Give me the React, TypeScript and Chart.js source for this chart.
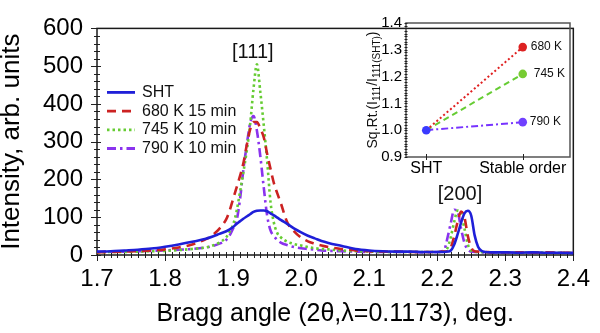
import React, { useEffect, useRef } from 'react';
import { Chart, registerables } from 'chart.js';

Chart.register(...registerables);

const FONT = '"Liberation Sans", Arial, Helvetica, sans-serif';

// ---- main chart data ----
const angles = [
  1.70, 1.72, 1.74, 1.76, 1.78, 1.80, 1.82, 1.84, 1.86, 1.87,
  1.88, 1.89, 1.895, 1.90, 1.905, 1.91, 1.915, 1.92, 1.925, 1.93,
  1.935, 1.94, 1.945, 1.95, 1.955, 1.96, 1.965, 1.97, 1.98, 1.99,
  2.00, 2.01, 2.02, 2.03, 2.04, 2.06, 2.08, 2.10, 2.12, 2.14,
  2.16, 2.18, 2.20, 2.21, 2.215, 2.22, 2.225, 2.23, 2.235, 2.24,
  2.245, 2.25, 2.255, 2.26, 2.265, 2.27, 2.28, 2.30, 2.32, 2.34,
  2.36, 2.38, 2.40,
];
const shtValues = [
  9, 10, 12, 14, 17, 22, 28, 35, 43, 49,
  56, 63, 68, 74, 82, 89, 96, 102, 108, 114,
  117, 118, 118, 116, 110, 105, 99, 93, 82, 70,
  60, 51, 44, 37, 32, 24, 16, 12, 10, 9,
  9, 8, 8, 8, 9, 12, 28, 55, 85, 110,
  117, 104, 52, 22, 11, 8, 7, 7, 6, 7,
  6, 6, 5,
];
const k680Values = [
  7, 8, 9, 10, 12, 15, 20, 28, 42, 53,
  70, 95, 118, 148, 178, 208, 242, 290, 332, 352,
  352, 335, 312, 268, 228, 190, 163, 138, 85, 62,
  46, 36, 30, 25, 21, 16, 12, 10, 9, 9,
  8, 8, 8, 9, 10, 20, 50, 88, 115, 100,
  50, 20, 10, 9, 8, 8, 7, 7, 7, 6,
  7, 6, 6,
];
const k745Values = [
  7, 8, 8, 9, 10, 11, 13, 16, 20, 25,
  33, 47, 62, 80, 115, 165, 218, 275, 345, 440,
  505, 432, 345, 250, 140, 85, 58, 47, 35, 29,
  25, 21, 18, 16, 15, 12, 10, 9, 8, 8,
  8, 8, 8, 9, 18, 48, 88, 118, 110, 70,
  28, 12, 9, 8, 8, 7, 7, 7, 6, 7,
  6, 6, 6,
];
const k790Values = [
  8, 9, 9, 10, 11, 12, 14, 16, 20, 24,
  30, 40, 52, 70, 90, 145, 225, 290, 348, 368,
  329, 262, 180, 105, 65, 50, 40, 33, 26, 21,
  18, 16, 14, 12, 11, 10, 9, 8, 8, 8,
  8, 7, 8, 12, 45, 85, 120, 115, 70, 32,
  14, 9, 8, 8, 7, 7, 7, 6, 7, 6,
  6, 6, 6,
];
const seriesLabels = ['SHT', '680 K 15 min', '745 K 10 min', '790 K 10 min'];
const seriesValues = [shtValues, k680Values, k745Values, k790Values];
const seriesColors = ['#1f1fd8', '#cc2222', '#66cc33', '#8a33ee'];
const seriesDashes = [[], [9, 6], [2.5, 3], [9, 4, 2.5, 4]];

const xMin = 1.7;
const xMax = 2.4;
const yMin = 0;
const yMax = 600;

const peakLabels = ['[111]', '[200]'];
const peakAngles = [1.929, 2.2335];
const peakHeights = [535, 159];

// ---- inset data ----
const insetCategories = ['SHT', 'Stable order'];
const insetLabels = ['680 K', '745 K', '790 K'];
const insetSht = [1.0, 1.0, 1.0];
const insetStable = [1.31, 1.21, 1.03];
const insetLineColors = ['#e02020', '#66cc33', '#7733ff'];
const insetPointColors = ['#dd2222', '#77cc33', '#7040ff'];
const insetDashes = [[2, 2.5], [6, 4], [7, 3, 2, 3]];
const insetShtColor = '#3a3aff';

const mainDecor = {
  id: 'mainDecor',
  beforeDatasetsDraw(chart: any) {
    const { ctx, chartArea: a, scales } = chart;
    const x = scales.x;
    const y = scales.y;
    ctx.save();
    ctx.strokeStyle = '#222';
    ctx.lineWidth = 1;
    for (let i = 0; i <= 70; i++) {
      const v = xMin + i * 0.01;
      const px = Math.round(x.getPixelForValue(v)) + 0.5;
      const major = i % 10 === 0;
      ctx.beginPath();
      ctx.moveTo(px, a.bottom - (major ? 4 : 3));
      ctx.lineTo(px, a.bottom + (major ? 6 : 3));
      ctx.stroke();
    }
    for (let j = 0; j <= 30; j++) {
      const v = j * 20;
      const py = Math.round(y.getPixelForValue(v)) + 0.5;
      const major = j % 5 === 0;
      ctx.beginPath();
      ctx.moveTo(a.left - (major ? 6 : 3), py);
      ctx.lineTo(a.left + (major ? 4 : 3), py);
      ctx.stroke();
    }
    ctx.lineWidth = 1.5;
    ctx.strokeStyle = '#1a1a1a';
    ctx.strokeRect(a.left, a.top, a.right - a.left, a.bottom - a.top);
    ctx.restore();
  },
  afterDatasetsDraw(chart: any) {
    const { ctx, chartArea: a, scales } = chart;
    ctx.save();
    // legend
    ctx.font = `16px ${FONT}`;
    ctx.textBaseline = 'middle';
    ctx.textAlign = 'left';
    for (let i = 0; i < seriesLabels.length; i++) {
      const yy = a.top + 64 + i * 18.7;
      ctx.strokeStyle = seriesColors[i];
      ctx.lineWidth = 2.8;
      ctx.setLineDash(seriesDashes[i]);
      ctx.beginPath();
      ctx.moveTo(a.left + 10, yy);
      ctx.lineTo(a.left + 38, yy);
      ctx.stroke();
      ctx.setLineDash([]);
      ctx.fillStyle = '#111';
      ctx.fillText(seriesLabels[i], a.left + 45, yy);
    }
    // peak labels
    ctx.font = `20px ${FONT}`;
    ctx.textAlign = 'center';
    for (let k = 0; k < peakLabels.length; k++) {
      ctx.fillText(
        peakLabels[k],
        scales.x.getPixelForValue(peakAngles[k]),
        scales.y.getPixelForValue(peakHeights[k])
      );
    }
    ctx.restore();
  },
};

const insetDecor = {
  id: 'insetDecor',
  beforeDatasetsDraw(chart: any) {
    const { ctx, chartArea: a, scales } = chart;
    const y = scales.y;
    const x = scales.x;
    ctx.save();
    ctx.strokeStyle = '#555';
    ctx.lineWidth = 1.5;
    ctx.strokeRect(a.left, a.top, a.right - a.left, a.bottom - a.top);
    ctx.strokeStyle = '#222';
    ctx.lineWidth = 1;
    for (let j = 0; j <= 50; j++) {
      const v = 0.9 + j * 0.01;
      const py = Math.round(y.getPixelForValue(v)) + 0.5;
      ctx.beginPath();
      ctx.moveTo(a.left - 1.5, py);
      ctx.lineTo(a.left + 1.5, py);
      ctx.stroke();
    }
    for (let c = 0; c < insetCategories.length; c++) {
      const px = Math.round(x.getPixelForValue(c)) + 0.5;
      ctx.beginPath();
      ctx.moveTo(px, a.bottom - 3);
      ctx.lineTo(px, a.bottom + 3);
      ctx.stroke();
    }
    ctx.restore();
  },
  afterDatasetsDraw(chart: any) {
    const { ctx, chartArea: a, scales } = chart;
    ctx.save();
    ctx.fillStyle = '#111';
    ctx.font = `12px ${FONT}`;
    ctx.textBaseline = 'middle';
    ctx.textAlign = 'left';
    const offsets = [8, 11, 7];
    for (let i = 0; i < insetLabels.length; i++) {
      ctx.fillText(
        insetLabels[i],
        scales.x.getPixelForValue(1) + offsets[i],
        scales.y.getPixelForValue(insetStable[i])
      );
    }
    // y title with subscripts
    const parts: [string, boolean][] = [
      ['Sq.Rt.(I', false],
      ['111', true],
      ['/I', false],
      ['111(SHT)', true],
      [')', false],
    ];
    const big = `14px ${FONT}`;
    const small = `10px ${FONT}`;
    let total = 0;
    for (const [t, s] of parts) {
      ctx.font = s ? small : big;
      total += ctx.measureText(t).width;
    }
    ctx.translate(a.left - 29, (a.top + a.bottom) / 2);
    ctx.rotate(-Math.PI / 2);
    ctx.textBaseline = 'alphabetic';
    let xx = -total / 2;
    for (const [t, s] of parts) {
      ctx.font = s ? small : big;
      ctx.fillText(t, xx, s ? 3 : 0);
      xx += ctx.measureText(t).width;
    }
    ctx.restore();
  },
};

export default function App() {
  const mainRef = useRef<HTMLCanvasElement>(null);
  const insetRef = useRef<HTMLCanvasElement>(null);

  useEffect(() => {
    if (!mainRef.current || !insetRef.current) return;
    const main = new Chart(mainRef.current, {
      type: 'line',
      data: {
        datasets: seriesLabels.map((label, i) => ({
          label,
          data: angles.map((a, k) => ({ x: a, y: seriesValues[i][k] })),
          borderColor: seriesColors[i],
          borderDash: seriesDashes[i],
          borderWidth: 2.6,
          pointRadius: 0,
          cubicInterpolationMode: 'monotone' as const,
          fill: false,
        })),
      },
      options: {
        animation: false,
        responsive: false,
        layout: { padding: { top: 15, right: 23, left: 0, bottom: 0 } },
        plugins: { legend: { display: false }, tooltip: { enabled: false } },
        scales: {
          x: {
            type: 'linear',
            min: xMin,
            max: xMax,
            ticks: {
              stepSize: 0.1,
              autoSkip: false,
              maxRotation: 0,
              color: '#000',
              padding: 10,
              font: { size: 24, family: FONT },
              callback: (v: any) => Number(v).toFixed(1),
            },
            grid: { display: false, drawTicks: false },
            border: { display: false },
            title: {
              display: true,
              text: 'Bragg angle (2θ,λ=0.1173), deg.',
              color: '#000',
              font: { size: 25, family: FONT },
              padding: { top: 0, bottom: 4 },
            },
            afterFit: (s: any) => { s.height = 78; },
          },
          y: {
            min: yMin,
            max: yMax,
            ticks: {
              stepSize: 100,
              color: '#000',
              padding: 14,
              font: { size: 24, family: FONT },
            },
            grid: { display: false, drawTicks: false },
            border: { display: false },
            title: {
              display: true,
              text: 'Intensity, arb. units',
              color: '#000',
              font: { size: 26, family: FONT, lineHeight: 0.9 },
              padding: 0,
            },
            afterFit: (s: any) => { s.width = 97; },
          },
        },
      },
      plugins: [mainDecor],
    } as any);

    const insetDatasets: any[] = [
      {
        label: 'SHT',
        data: [{ x: 0, y: insetSht[0] }],
        showLine: false,
        pointRadius: 4.3,
        pointBackgroundColor: insetShtColor,
        pointBorderWidth: 0,
      },
    ];
    insetLabels.forEach((label, i) => {
      insetDatasets.push({
        label,
        data: [
          { x: 0, y: insetSht[i] },
          { x: 1, y: insetStable[i] },
        ],
        borderColor: insetLineColors[i],
        borderDash: insetDashes[i],
        borderWidth: 2,
        pointRadius: [0, 4.3],
        pointBackgroundColor: insetPointColors[i],
        pointBorderWidth: 0,
      });
    });

    const inset = new Chart(insetRef.current, {
      type: 'line',
      data: { datasets: insetDatasets },
      options: {
        animation: false,
        responsive: false,
        layout: { padding: { top: 13, right: 5, left: 0, bottom: 0 } },
        plugins: { legend: { display: false }, tooltip: { enabled: false } },
        scales: {
          x: {
            type: 'linear',
            min: -0.21,
            max: 1.49,
            afterBuildTicks: (s: any) => {
              s.ticks = insetCategories.map((_, i) => ({ value: i }));
            },
            ticks: {
              autoSkip: false,
              maxRotation: 0,
              color: '#000',
              padding: 2,
              font: { size: 16, family: FONT },
              callback: (v: any) => insetCategories[Math.round(Number(v))] ?? '',
            },
            grid: { display: false, drawTicks: false },
            border: { display: false },
            afterFit: (s: any) => { s.height = 33; },
          },
          y: {
            min: 0.9,
            max: 1.4,
            ticks: {
              stepSize: 0.1,
              color: '#000',
              padding: 4,
              font: { size: 15, family: FONT },
              callback: (v: any) => Number(v).toFixed(1),
            },
            grid: { display: false, drawTicks: false },
            border: { display: false },
            afterFit: (s: any) => { s.width = 51; },
          },
        },
      },
      plugins: [insetDecor],
    } as any);

    return () => {
      main.destroy();
      inset.destroy();
    };
  }, []);

  return (
    <div style={{ position: 'fixed', left: 0, top: 0, width: 600, height: 333, background: '#fff' }}>
      <canvas
        ref={mainRef}
        width={600}
        height={333}
        style={{ position: 'absolute', left: 0, top: 0, width: 600, height: 333 }}
      />
      <canvas
        ref={insetRef}
        width={220}
        height={180}
        style={{ position: 'absolute', left: 355, top: 10, width: 220, height: 180 }}
      />
    </div>
  );
}
